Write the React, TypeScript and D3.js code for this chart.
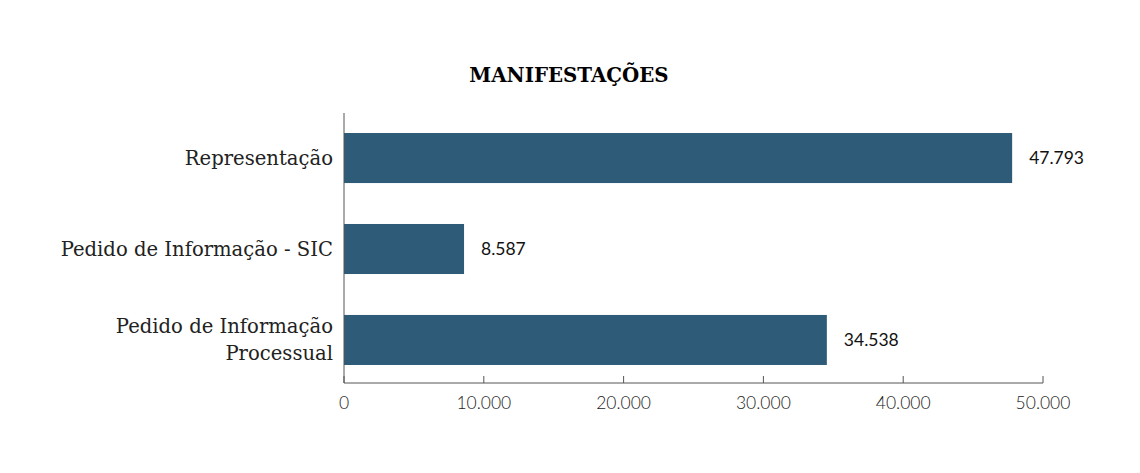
import React from "react";
import * as d3 from "d3";

const categories = ["Representação", "Pedido de Informação - SIC", "Pedido de Informação Processual"];
const categoryLines = [["Representação"], ["Pedido de Informação - SIC"], ["Pedido de Informação", "Processual"]];
const values = [47793, 8587, 34538];
const ticks = [0, 10000, 20000, 30000, 40000, 50000];

const W = 1140, H = 473;
const left = 344, right = 1043, top = 113, bottom = 383;
const fmt = (v: number) => d3.format(",")(v).replace(/,/g, ".");

export default function App() {
  const x = d3.scaleLinear().domain([0, 50000]).range([left, right]);
  const y = d3.scaleBand<string>().domain(categories).range([top, bottom + 2]).paddingInner(0.45).paddingOuter(0.22);
  const serif = "'DejaVu Serif', serif";
  return (
    <svg width={W} height={H} style={{ position: "absolute", left: 0, top: 0, background: "#fff" }}>
      <text x={569} y={82} textAnchor="middle" fontFamily={serif} fontWeight="bold" fontSize={19.8} fill="#000">MANIFESTAÇÕES</text>
      {categories.map((c, i) => (
        <rect key={c} x={x(0)} y={y(c)!} width={x(values[i]) - x(0)} height={y.bandwidth()} fill="#2d5b78" />
      ))}
      {categories.map((c, i) => {
        const cy = y(c)! + y.bandwidth() / 2;
        const lines = categoryLines[i];
        const lh = 27;
        const y0 = cy - ((lines.length - 1) * lh) / 2 + 7;
        return (
          <text key={"l" + c} textAnchor="end" fontFamily={serif} fontSize={19.6} fill="#222">
            {lines.map((ln, j) => (
              <tspan key={j} x={333} y={y0 + j * lh}>{ln}</tspan>
            ))}
          </text>
        );
      })}
      {categories.map((c, i) => (
        <text key={"v" + c} x={x(values[i]) + 17} y={y(c)! + y.bandwidth() / 2 + 6} fontFamily="Lato, sans-serif" fontSize={17.5} fill="#111">{fmt(values[i])}</text>
      ))}
      <line x1={left} x2={left} y1={top} y2={bottom} stroke="#555" strokeWidth={1} />
      <line x1={left} x2={right} y1={bottom} y2={bottom} stroke="#555" strokeWidth={1} />
      {ticks.map(t => (
        <g key={t}>
          <line x1={x(t)} x2={x(t)} y1={bottom - 7} y2={bottom} stroke="#555" strokeWidth={1} />
          <text x={x(t)} y={409} textAnchor="middle" fontFamily="Lato, sans-serif" fontWeight={300} fontSize={17.5} fill="#222">{fmt(t)}</text>
        </g>
      ))}
    </svg>
  );
}
